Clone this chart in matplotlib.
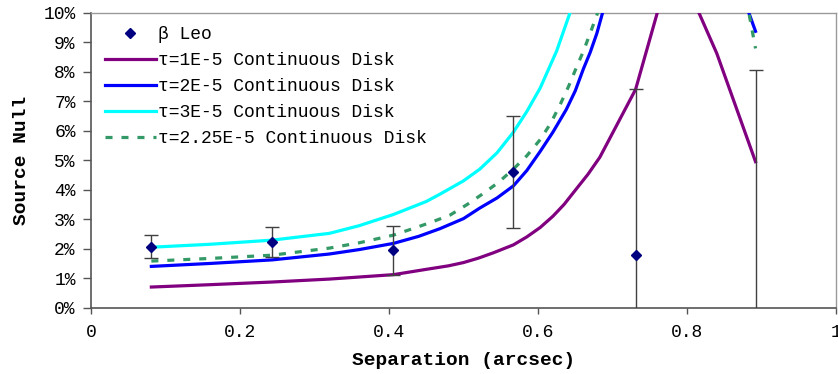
import matplotlib
matplotlib.use("Agg")
import matplotlib.pyplot as plt
from matplotlib.ticker import FixedLocator, FuncFormatter

plt.rcParams['font.family'] = ['Liberation Mono', 'DejaVu Sans Mono']

# Measured source null for beta Leo (percent) with 1-sigma errors
sep_obs = [0.081, 0.243, 0.406, 0.567, 0.731, 0.892]
null_obs = [2.07, 2.22, 1.95, 4.59, 1.80, -1.00]
null_err = [0.39, 0.50, 0.83, 1.90, 5.60, 9.06]

# Continuous-disk model curves (percent)
sep_t1 = [0.081, 0.16, 0.243, 0.32, 0.406, 0.45, 0.48, 0.50, 0.52, 0.54,
          0.567, 0.585, 0.603, 0.62, 0.635, 0.65, 0.667, 0.683, 0.731,
          0.782, 0.84, 0.892]
null_t1 = [0.70, 0.78, 0.87, 0.97, 1.12, 1.30, 1.42, 1.53, 1.68, 1.86,
           2.13, 2.40, 2.72, 3.10, 3.50, 3.98, 4.52, 5.10, 7.40,
           11.95, 8.62, 4.95]

sep_t2 = [0.081, 0.16, 0.243, 0.32, 0.36, 0.406, 0.44, 0.4685, 0.50, 0.522,
          0.545, 0.567, 0.585, 0.603, 0.62, 0.638, 0.65, 0.661, 0.670, 0.679,
          0.69, 0.70, 0.731, 0.782, 0.84, 0.892]
null_t2 = [1.40, 1.50, 1.62, 1.82, 1.97, 2.18, 2.42, 2.68, 3.02, 3.38,
           3.72, 4.13, 4.65, 5.30, 5.95, 6.72, 7.35, 8.10, 8.65, 9.30,
           10.3, 12.5, 25.0, 50.0, 13.0, 9.37]

sep_t3 = [0.081, 0.16, 0.243, 0.32, 0.36, 0.406, 0.45, 0.4685, 0.50, 0.522,
          0.545, 0.567, 0.585, 0.603, 0.625, 0.643, 0.66, 0.683, 0.731,
          0.782, 0.84, 0.892]
null_t3 = [2.05, 2.15, 2.29, 2.52, 2.78, 3.16, 3.60, 3.85, 4.30, 4.70,
           5.25, 5.95, 6.65, 7.45, 8.70, 10.0, 12.0, 20.0, 40.0,
           60.0, 40.0, 25.0]

sep_t225 = [0.081, 0.16, 0.243, 0.32, 0.36, 0.406, 0.44, 0.457, 0.482, 0.505,
            0.527, 0.547, 0.567, 0.585, 0.603, 0.617, 0.630, 0.641, 0.652,
            0.661, 0.670, 0.683, 0.70, 0.731, 0.782, 0.84, 0.892]
null_t225 = [1.58, 1.67, 1.78, 2.02, 2.20, 2.46, 2.75, 2.90, 3.14, 3.50,
             3.88, 4.25, 4.70, 5.15, 5.70, 6.25, 6.90, 7.50, 8.17,
             8.70, 9.30, 10.2, 13.5, 28.0, 55.0, 15.8, 8.79]

x_ticks = [0, 0.2, 0.4, 0.6, 0.8, 1.0]
x_tick_labels = ['0', '0.2', '0.4', '0.6', '0.8', '1']
y_ticks = list(range(0, 11))

fig = plt.figure(figsize=(8.38, 3.74), dpi=100)
ax = fig.add_axes([0.1086, 0.1773, 0.9976 - 0.1086, 0.966 - 0.1773])

l1, = ax.plot(sep_t1, null_t1, color='#800080', lw=2.3, label='τ=1E-5 Continuous Disk', zorder=3)
l2, = ax.plot(sep_t2, null_t2, color='#0000FF', lw=2.3, label='τ=2E-5 Continuous Disk', zorder=3)
l3, = ax.plot(sep_t3, null_t3, color='#00FFFF', lw=2.3, label='τ=3E-5 Continuous Disk', zorder=3)
l4, = ax.plot(sep_t225, null_t225, color='#339966', lw=2.3, dashes=[2.2, 2.8],
              label='τ=2.25E-5 Continuous Disk', zorder=4)

ax.errorbar(sep_obs, null_obs, yerr=null_err, fmt='none', ecolor='#404040',
            elinewidth=1.0, capsize=5, capthick=1.0, zorder=5)
pts, = ax.plot(sep_obs, null_obs, linestyle='none', marker='D', markersize=5.5,
               color='#000080', label='β Leo', zorder=6)

ax.set_xlim(0, 1)
ax.set_ylim(0, 10)
ax.xaxis.set_major_locator(FixedLocator(x_ticks))
ax.set_xticklabels(x_tick_labels)
ax.yaxis.set_major_locator(FixedLocator(y_ticks))
ax.yaxis.set_major_formatter(FuncFormatter(lambda v, p: f"{int(round(v))}%"))

ax.tick_params(axis='x', direction='out', length=4.5, width=1, color='#555555',
               labelsize=13, pad=7)
ax.tick_params(axis='y', direction='out', length=6, width=1, color='#555555',
               labelsize=13, pad=5)

for side in ('left', 'bottom'):
    ax.spines[side].set_color('#555555')
    ax.spines[side].set_linewidth(1.2)
for side in ('top', 'right'):
    ax.spines[side].set_color('#9a9a9a')
    ax.spines[side].set_linewidth(1.0)

ax.set_xlabel('Separation (arcsec)', fontsize=14, fontweight='bold', labelpad=8)
ax.set_ylabel('Source Null', fontsize=14, fontweight='bold', labelpad=10)

leg = ax.legend(handles=[pts, l1, l2, l3, l4], loc='upper left',
                bbox_to_anchor=(0.019, 0.955), frameon=False, fontsize=13,
                borderpad=0, borderaxespad=0, handlelength=2.8,
                handletextpad=0.15, labelspacing=0.5)

fig.savefig('out.png', dpi=100)
